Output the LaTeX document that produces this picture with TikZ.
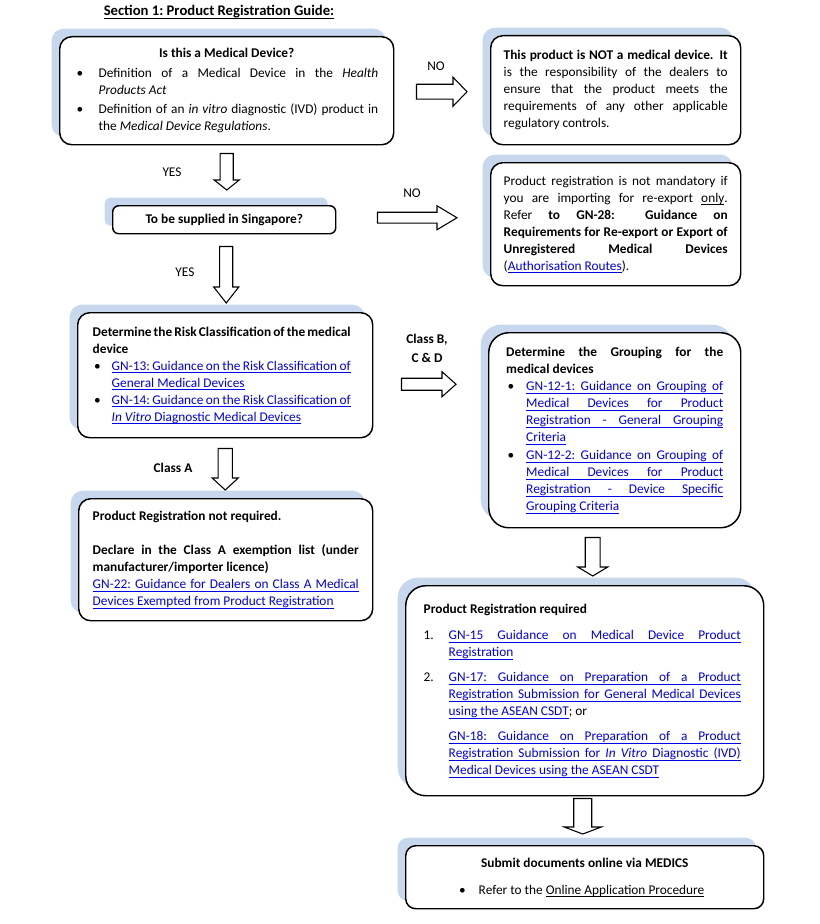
\documentclass[tikz,border=0pt]{standalone}
\usepackage{fontspec}
\setmainfont{Carlito}
\usetikzlibrary{calc,shadows}

\definecolor{shadowblue}{RGB}{198,215,238}
\definecolor{linkblue}{RGB}{0,0,230}

\hyphenpenalty=10000
\tolerance=9999
\emergencystretch=8pt

\makeatletter
\def\ul@rule{\vrule height -1.4pt depth 1.9pt}
\def\ul@box#1{\setbox\z@\hbox{#1}\rlap{\ul@rule width\wd\z@}\box\z@}
\def\ul@space{\leaders\hrule height -1.4pt depth 1.9pt\hskip\fontdimen2\font plus\fontdimen3\font minus\fontdimen4\font}
\def\ul@split#1 #2\ul@end{%
  \ul@box{#1}%
  \if\relax\detokenize{#2}\relax
    \expandafter\@gobble
  \else
    \expandafter\@firstofone
  \fi
  {\ul@space\ul@split#2\ul@end}}
\newcommand{\ultext}[1]{\leavevmode\ul@split#1 \ul@end}
\makeatother

\newcommand{\bodyfont}{\fontsize{10}{12.75}\selectfont}
\newcommand{\weblink}[1]{{\color{linkblue}\ultext{#1}}}
\newcommand{\bitem}[2]{\par\hangindent=#1\hangafter=1\noindent\makebox[#1][l]{\hspace{1pt}\textbullet}#2\par}
\newcommand{\nitem}[3]{\par\hangindent=#1\hangafter=1\noindent\makebox[#1][l]{#2}#3\par}

\newcommand{\downblock}[5]{%
  \draw[blockarrow] let \p1 = #1, \p2 = #2 in
    (\x1-#3,\y1) -- (\x1+#3,\y1) -- (\x1+#3,\y2+#5) -- (\x1+#4,\y2+#5)
    -- (\x1,\y2) -- (\x1-#4,\y2+#5) -- (\x1-#3,\y2+#5) -- cycle;}
\newcommand{\rightblock}[5]{%
  \draw[blockarrow] let \p1 = #1, \p2 = #2 in
    (\x1,\y1+#3) -- (\x1,\y1-#3) -- (\x2-#5,\y1-#3) -- (\x2-#5,\y1-#4)
    -- (\x2,\y1) -- (\x2-#5,\y1+#4) -- (\x2-#5,\y1+#3) -- cycle;}

\tikzset{
  guidebox/.style = {draw, line width=1.1pt, rounded corners=9pt, fill=white,
    anchor=north west, inner sep=0pt, align=justify, font=\bodyfont,
    drop shadow={shadow xshift=-6pt, shadow yshift=6pt, fill=shadowblue, opacity=1}},
  flowlabel/.style = {font=\bodyfont, align=center},
  blockarrow/.style = {draw, fill=white, line width=0.8pt, line join=miter},
}

\begin{document}
\begin{tikzpicture}[x=0.75pt, y=-0.75pt]
    \useasboundingbox (0,0) rectangle (820,924);

    \node[flowlabel, font=\fontsize{11}{13}\selectfont] (title) at (219,12) {\textbf{\ultext{Section 1: Product Registration Guide:}}};

    \node[guidebox, minimum width=250.5pt, minimum height=81pt, text width=227.25pt] (medical) at (59,36) {%
        {\centering\textbf{Is this a Medical Device?}\par}
        \vspace{2.25pt}
        \bitem{17.6pt}{Definition of a Medical Device in the \textit{Health}\linebreak\textit{Products Act}}
        \vspace{1.5pt}
        \bitem{17.6pt}{Definition of an \textit{in vitro} diagnostic (IVD) product in the \textit{Medical Device Regulations}.}};

    \node[guidebox, minimum width=187.5pt, minimum height=81.75pt, text width=168pt] (notdevice) at (490,35) {%
        \textbf{This product is NOT a medical device. It}\linebreak is the responsibility of the dealers to\linebreak ensure that the product meets the\linebreak requirements of any other applicable\linebreak regulatory controls.};

    \node[guidebox, minimum width=187.5pt, minimum height=92.25pt, text width=168pt] (reexport) at (490,162) {%
        Product registration is not mandatory if\linebreak you are importing for re-export \ultext{only}.\linebreak Refer \textbf{to GN-28: Guidance on}\linebreak
        \textbf{Requirements for Re-export or Export of}\linebreak\textbf{Unregistered Medical Devices}\linebreak
        (\weblink{Authorisation Routes}).};

    \node[guidebox, align=center, rounded corners=4.5pt, minimum width=167.25pt, minimum height=21pt] (supply) at (112,205) {%
        \textbf{To be supplied in Singapore?}};

    \node[guidebox, minimum width=221.25pt, minimum height=93.75pt, text width=198.75pt] (riskclass) at (77,312) {%
        \rightskip=5.25pt
        \textbf{Determine the Risk Classification of the medical device}\par
        \bitem{14.25pt}{\weblink{GN-13: Guidance on the Risk Classification of General Medical Devices}}
        \bitem{14.25pt}{\weblink{GN-14: Guidance on the Risk Classification of {\itshape In} {\itshape Vitro} Diagnostic Medical Devices}}};

    \node[guidebox, rounded corners=15pt, minimum width=189pt, minimum height=146.25pt, text width=162.75pt] (grouping) at (488,332) {%
        \textbf{Determine the Grouping for the}\linebreak\textbf{medical devices}\par
        \bitem{15pt}{\weblink{GN-12-1: Guidance on Grouping of}\linebreak\weblink{Medical Devices for Product}\linebreak\weblink{Registration - General Grouping}\linebreak\weblink{Criteria}}
        \vspace{0.75pt}
        \bitem{15pt}{\weblink{GN-12-2: Guidance on Grouping of}\linebreak\weblink{Medical Devices for Product}\linebreak\weblink{Registration - Device Specific}\linebreak\weblink{Grouping Criteria}}};

    \node[guidebox, minimum width=220.5pt, minimum height=91.5pt, text width=199.5pt] (notreq) at (78,498) {%
        \textbf{Product Registration not required.}\par
        \vspace{12.75pt}
        \textbf{Declare in the Class A exemption list (under manufacturer/importer licence)}\par
        \weblink{GN-22: Guidance for Dealers on Class A Medical Devices Exempted from Product Registration}};

    \node[guidebox, rounded corners=15pt, minimum width=268.5pt, minimum height=157.5pt, text width=241.5pt] (regreq) at (405,585) {%
        \rightskip=3.75pt
        \textbf{Product Registration required}\par
        \vspace{6.75pt}
        \nitem{18.75pt}{1.}{\weblink{GN-15 Guidance on Medical Device Product}\linebreak\weblink{Registration}}
        \vspace{6pt}
        \nitem{18.75pt}{2.}{\weblink{GN-17: Guidance on Preparation of a Product Registration Submission for General Medical Devices using the ASEAN CSDT}; or}
        \vspace{6pt}
        \nitem{18.75pt}{}{\weblink{GN-18: Guidance on Preparation of a Product Registration Submission for {\itshape In} {\itshape Vitro} Diagnostic (IVD) Medical Devices using the ASEAN CSDT}}};

    \node[guidebox, rounded corners=7.5pt, minimum width=268.5pt, minimum height=47.25pt, text width=241.5pt] (submit) at (405,845) {%
        {\centering\textbf{Submit documents online via MEDICS}\par}
        \vspace{7.5pt}
        {\leftskip=25.5pt \bitem{15.75pt}{Refer to the \ultext{Online Application Procedure}}}};

    \node[flowlabel] (no1) at (436,66) {NO};
    \node[flowlabel] (yes1) at (172,172) {YES};
    \node[flowlabel] (no2) at (412,193) {NO};
    \node[flowlabel] (yes2) at (185,272) {YES};
    \node[flowlabel, font=\bodyfont\bfseries] (classbcd) at (427,348) {Class B,\\[1.5pt]C \& D};
    \node[flowlabel, font=\bodyfont\bfseries] (classa) at (173,468) {Class A};

    \rightblock{($(medical.east)+(22,1)$)}{($(notdevice.west)+(-23,0)$)}{5.6pt}{10.9pt}{10.5pt}
    \downblock{($(medical.south)+(0,8)$)}{($(supply.north)+(0,-15)$)}{4.9pt}{9.4pt}{7.5pt}
    \rightblock{($(supply.east)+(41,-2)$)}{($(reexport.west)+(-33,0)$)}{4.1pt}{9pt}{15pt}
    \downblock{($(supply.south)+(2,12)$)}{($(riskclass.north)+(0,-9)$)}{4.9pt}{9.4pt}{12pt}
    \rightblock{($(riskclass.east)+(28,9)$)}{($(grouping.west)+(-32,0)$)}{4.5pt}{9.4pt}{10.5pt}
    \downblock{($(riskclass.south)+(0,10)$)}{($(notreq.north)+(0,-8)$)}{5.3pt}{9.75pt}{9pt}
    \downblock{($(grouping.south)+(-22,9)$)}{($(regreq.north)+(0,-9)$)}{5.6pt}{11.25pt}{6.75pt}
    \downblock{($(regreq.south)+(-2,2)$)}{($(submit.north)+(0,-11)$)}{6.75pt}{13.9pt}{5.25pt}
\end{tikzpicture}
\end{document}
